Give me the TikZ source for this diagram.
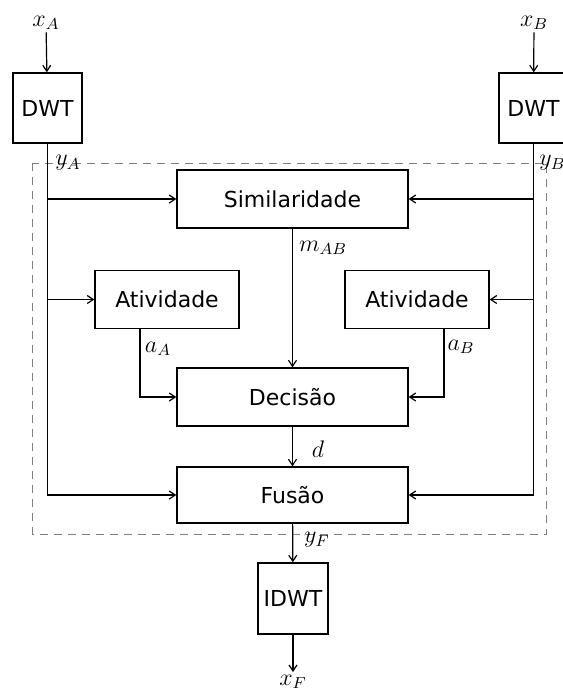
\documentclass[tikz,border=0pt]{standalone}
\usepackage{fontspec}
\setsansfont{DejaVu Sans}
\usetikzlibrary{arrows.meta}

\tikzset{
  blk/.style={draw, line width=0.7pt, fill=white, inner sep=0pt,
    font=\sffamily\fontsize{11}{13}\selectfont},
  lbl/.style={inner sep=1pt, font=\fontsize{12}{14}\selectfont},
  wire/.style={line width=0.6pt},
}

\begin{document}
\begin{tikzpicture}[x=0.5pt,y=-0.5pt,>={Straight Barb[length=3pt,width=4pt]}]
            {
    \def\boxw{115.5pt}
    \def\boxh{29pt}

    \useasboundingbox (0,0) rectangle (563,693);

    % dashed frame round the fusion stage
    \draw[gray, dash pattern=on 4pt off 3pt, line width=0.5pt] (33,163) rectangle (547,534);

    \node[blk, minimum width=34.5pt, minimum height=35pt] (dwtA) at (47.5,108) {DWT};
    \node[blk, minimum width=34.5pt, minimum height=35pt] (dwtB) at (533.5,108) {DWT};
    \node[blk, minimum width=\boxw, minimum height=\boxh] (sim) at (292.5,199) {Similaridade};
    \node[blk, minimum width=72pt, minimum height=\boxh] (actA) at (167,299.5) {Atividade};
    \node[blk, minimum width=72pt, minimum height=\boxh] (actB) at (417,299.5) {Atividade};
    \node[blk, minimum width=\boxw, minimum height=\boxh] (dec) at (292.5,397) {Decisão};
    \node[blk, minimum width=\boxw, minimum height=28pt] (fus) at (292.5,495) {Fusão};
    \node[blk, minimum width=35pt, minimum height=35.5pt] (idwt) at (293,598.5) {IDWT};

    \node[lbl] (inA) at (46,23) {$x_A$};
    \node[lbl] (inB) at (534,23) {$x_B$};
    \coordinate (outF) at (293,672);
    \node[lbl] (lblxF) at (293,682) {$x_F$};

    \draw[wire,->] (inA) -- (dwtA);
    \draw[wire,->] (inB) -- (dwtB);

    % left and right trunks
    \draw[wire,->] (dwtA.south) |- (fus.west);
    \draw[wire,->] (dwtA.south |- sim.west) -- (sim.west);
    \draw[wire,->] (dwtA.south |- actA.west) -- (actA.west);

    \draw[wire,->] (dwtB.south) |- (fus.east);
    \draw[wire,->] (dwtB.south |- sim.east) -- (sim.east);
    \draw[wire,->] (dwtB.south |- actB.east) -- (actB.east);

    \draw[wire,->] (sim) -- (dec);
    \draw[wire,->] ([xshift=-13.5pt]actA.south) |- (dec.west);
    \draw[wire,->] ([xshift=13.5pt]actB.south) |- (dec.east);
    \draw[wire,->] (dec) -- (fus);
    \draw[wire,->] (fus) -- (idwt);
    \draw[wire,->] (idwt) -- (outF);

    \node[lbl] at (68,163) {$y_A$};
    \node[lbl, anchor=west] at (537,163) {$y_B$};
    \node[lbl] at (323,248) {$m_{AB}$};
    \node[lbl] at (158,349) {$a_A$};
    \node[lbl] at (461,347) {$a_B$};
    \node[lbl] at (318,449) {$d$};
    \node[lbl] at (317,540) {$y_F$};
}
        \end{tikzpicture}
\end{document}
